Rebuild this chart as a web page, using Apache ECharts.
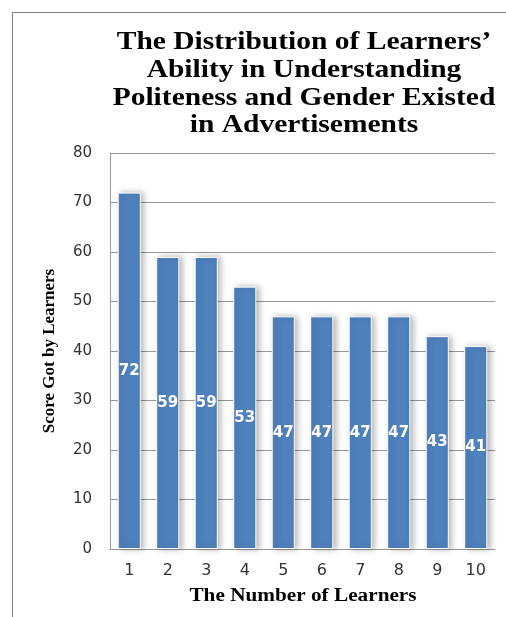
<!DOCTYPE html>
<html>
<head>
<meta charset="utf-8">
<script src="https://cdn.jsdelivr.net/npm/echarts@6/dist/echarts.min.js"></script>
<style>html,body{margin:0;padding:0;background:#fff}#c{width:506px;height:617px}</style>
</head>
<body>
<div id="c"></div>
<script>
const categories = ['1','2','3','4','5','6','7','8','9','10'];
const scores = [72, 59, 59, 53, 47, 47, 47, 47, 43, 41];
const titleLines = ['The Distribution of Learners\u2019', 'Ability in Understanding', 'Politeness and Gender Existed', 'in Advertisements'];
const xAxisName = 'The Number of Learners';
const yAxisName = 'Score Got by Learners';

const chart = echarts.init(document.getElementById('c'), null, {renderer: 'canvas'});
chart.setOption({
  animation: false,
  backgroundColor: '#fff',
  graphic: [
    {type: 'line', shape: {x1: 12.5, y1: 12.5, x2: 506, y2: 12.5}, style: {stroke: '#808080', lineWidth: 1}},
    {type: 'line', shape: {x1: 12.5, y1: 12.5, x2: 12.5, y2: 617}, style: {stroke: '#808080', lineWidth: 1}},
    {
      type: 'text', x: 304, y: 29, scaleX: 1.18,
      style: {
        text: titleLines.join('\n'),
        align: 'center', verticalAlign: 'top',
        fontFamily: 'Liberation Serif', fontWeight: 'bold', fontSize: 25,
        lineHeight: 27.7, fill: '#000'
      }
    },
    {
      type: 'text', x: 303, y: 596, scaleX: 1.18,
      style: {
        text: xAxisName,
        align: 'center', verticalAlign: 'middle',
        fontFamily: 'Liberation Serif', fontWeight: 'bold', fontSize: 18, fill: '#000'
      }
    }
  ],
  grid: {left: 110, top: 153, right: 11, bottom: 68},
  xAxis: {
    type: 'category',
    data: categories,
    axisLine: {lineStyle: {color: '#999', width: 1}},
    axisTick: {show: false},
    axisLabel: {fontFamily: 'DejaVu Sans', fontSize: 16, color: '#333', margin: 14}
  },
  yAxis: {
    type: 'value',
    min: 0, max: 80, interval: 10,
    name: yAxisName,
    nameLocation: 'middle',
    nameGap: 52,
    nameTextStyle: {fontFamily: 'Liberation Serif', fontWeight: 'bold', fontSize: 17, color: '#000'},
    axisLine: {show: true, lineStyle: {color: '#999', width: 1}},
    axisTick: {show: false},
    splitLine: {lineStyle: {color: '#999', width: 1}},
    axisLabel: {fontFamily: 'DejaVu Sans', fontSize: 15, color: '#333', margin: 18}
  },
  series: [{
    type: 'bar',
    data: scores,
    barWidth: '60%',
    itemStyle: {
      color: '#4F81BD',
      borderColor: '#fff',
      borderWidth: 1,
      shadowColor: 'rgba(0,0,0,0.28)',
      shadowBlur: 6,
      shadowOffsetX: 3,
      shadowOffsetY: 0
    },
    label: {
      show: true,
      position: 'inside',
      color: '#fff',
      fontFamily: 'DejaVu Sans',
      fontWeight: 'bold',
      fontSize: 15
    }
  }]
});
</script>
</body>
</html>
